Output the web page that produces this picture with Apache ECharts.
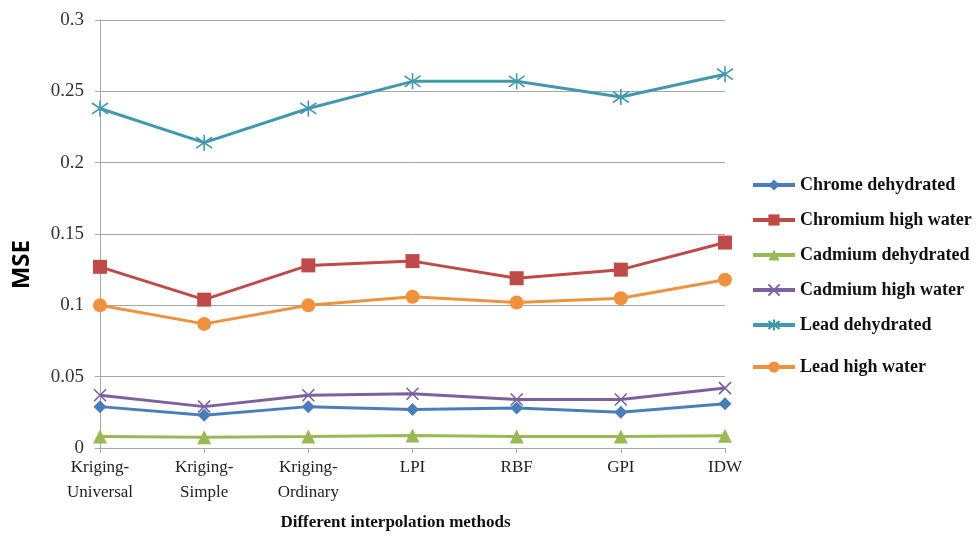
<!DOCTYPE html>
<html>
<head>
<meta charset="utf-8">
<script src="https://cdn.jsdelivr.net/npm/echarts@6/dist/echarts.min.js"></script>
<style>html,body{margin:0;padding:0;background:#fff}#c{width:978px;height:536px}</style>
</head>
<body>
<div id="c"></div>
<script>
var categories = ['Kriging-\nUniversal', 'Kriging-\nSimple', 'Kriging-\nOrdinary', 'LPI', 'RBF', 'GPI', 'IDW'];
var yTicks = [0, 0.05, 0.1, 0.15, 0.2, 0.25, 0.3];
var chromeDehydrated = [0.029, 0.023, 0.029, 0.027, 0.028, 0.025, 0.031];
var chromiumHighWater = [0.127, 0.104, 0.128, 0.131, 0.119, 0.125, 0.144];
var cadmiumDehydrated = [0.008, 0.0075, 0.008, 0.0088, 0.008, 0.008, 0.0085];
var cadmiumHighWater = [0.037, 0.029, 0.037, 0.038, 0.034, 0.034, 0.042];
var leadDehydrated = [0.238, 0.214, 0.238, 0.257, 0.257, 0.246, 0.262];
var leadHighWater = [0.100, 0.087, 0.100, 0.106, 0.102, 0.105, 0.118];

var xSym = 'path://M0,0L10,10M10,0L0,10';
var starSym = 'path://M5,0L5,10M0.7,1.6L9.3,8.4M9.3,1.6L0.7,8.4';

function mk(name, data, color, symbol, size, stroke) {
  return {
    name: name, type: 'line', data: data, symbol: symbol, symbolSize: size,
    showAllSymbol: true,
    lineStyle: { color: color, width: 3 },
    itemStyle: stroke ? { color: 'rgba(0,0,0,0)', borderColor: color, borderWidth: 1.6 } : { color: color, borderWidth: 0 },
    emphasis: { disabled: true },
    z: 2
  };
}

var legendText = { fontFamily: 'Liberation Serif', fontWeight: 'bold', fontSize: 18, color: '#111' };
var chart = echarts.init(document.getElementById('c'));
chart.setOption({
  animation: false,
  grid: { left: 100, right: 253, top: 20, bottom: 84.5, containLabel: false },
  legend: [{
    orient: 'vertical', left: 746, top: 171,
    itemWidth: 42, itemHeight: 14, itemGap: 17,
    lineStyle: { width: 4 },
    textStyle: legendText,
    data: ['Chrome dehydrated', 'Chromium high water', 'Cadmium dehydrated', 'Cadmium high water', 'Lead dehydrated']
  }, {
    orient: 'vertical', left: 746, top: 353,
    itemWidth: 42, itemHeight: 14,
    lineStyle: { width: 4 },
    textStyle: legendText,
    data: ['Lead high water']
  }],
  graphic: [{
    type: 'text', left: 10, top: 240, rotation: Math.PI / 2,
    style: { text: 'MSE', fontFamily: 'Open Sans', fontWeight: 'bold', fontSize: 24, fill: '#000' }
  }],
  xAxis: {
    type: 'category', data: categories, boundaryGap: false,
    axisLine: { lineStyle: { color: '#a6a6a6', width: 1 } },
    axisTick: { show: true, alignWithLabel: true, length: 5, lineStyle: { color: '#a6a6a6' } },
    axisLabel: { interval: 0, margin: 7, fontFamily: 'Liberation Serif', fontSize: 17, color: '#222', lineHeight: 25 },
    name: 'Different interpolation methods', nameLocation: 'middle', nameGap: 66,
    nameTextStyle: { fontFamily: 'Liberation Serif', fontWeight: 'bold', fontSize: 17, color: '#111', padding: [0, 34, 0, 0] }
  },
  yAxis: {
    type: 'value', min: 0, max: 0.3, interval: 0.05,
    axisLine: { show: true, lineStyle: { color: '#a6a6a6', width: 1 } },
    axisTick: { show: true, length: 5, lineStyle: { color: '#a6a6a6' } },
    splitLine: { lineStyle: { color: '#a6a6a6', width: 1 } },
    axisLabel: {
      margin: 16, fontFamily: 'Liberation Serif', fontSize: 19, color: '#333',
      formatter: function (v) { var s = yTicks.filter(function (t) { return Math.abs(t - v) < 1e-9; }); return s.length ? String(s[0]) : ''; }
    }
  },
  series: [
    mk('Chrome dehydrated', chromeDehydrated, '#4A7EBB', 'diamond', 13, false),
    mk('Chromium high water', chromiumHighWater, '#BE4B48', 'rect', 14, false),
    mk('Cadmium dehydrated', cadmiumDehydrated, '#98B954', 'triangle', 14, false),
    mk('Cadmium high water', cadmiumHighWater, '#7D60A0', xSym, 12, true),
    mk('Lead dehydrated', leadDehydrated, '#4198AF', starSym, 16, true),
    mk('Lead high water', leadHighWater, '#F0913E', 'circle', 14, false)
  ]
});
</script>
</body>
</html>
